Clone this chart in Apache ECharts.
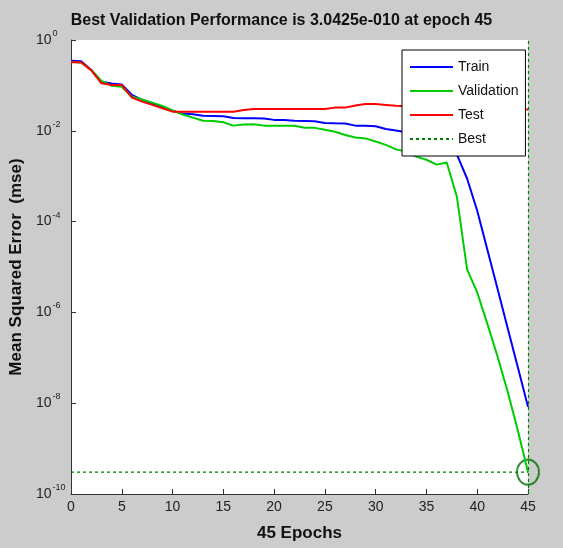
<!DOCTYPE html>
<html>
<head>
<meta charset="utf-8">
<script src="https://cdn.jsdelivr.net/npm/echarts@6/dist/echarts.min.js"></script>
<style>
  html, body { margin: 0; padding: 0; background: #cccccc; }
  #perf { width: 563px; height: 548px; }
</style>
</head>
<body>
<div id="perf"></div>
<script>
// training record (mse per epoch)
var epochs = [0,1,2,3,4,5,6,7,8,9,10,11,12,13,14,15,16,17,18,19,20,21,22,23,24,25,26,27,28,29,30,31,32,33,34,35,36,37,38,39,40,41,42,43,44,45];
var trainMse = [0.35,0.339,0.219,0.120,0.110,0.105,0.0617,0.0479,0.0403,0.0331,0.0277,0.0240,0.0231,0.0214,0.0212,0.0209,0.0191,0.0188,0.0188,0.0186,
  0.0174,0.0172,0.0166,0.0164,0.0162,0.0148,0.0146,0.0145,0.0130,0.0129,0.0126,0.0110,0.0102,0.0093,0.0079,0.0066,0.0052,0.0042,0.0030,
  8.9e-4,1.74e-4,2.4e-5,3.3e-6,4.5e-7,6.2e-8,8.3e-9];
var valMse = [0.331,0.316,0.219,0.126,0.0977,0.0933,0.0562,0.0490,0.0417,0.0352,0.0282,0.0229,0.0195,0.0166,0.0164,0.0154,0.0130,0.0138,0.0139,0.0130,
  0.0129,0.0129,0.0129,0.0117,0.0116,0.0105,0.0095,0.0081,0.0071,0.0068,0.0058,0.0049,0.0039,0.0035,0.0027,0.0023,0.0018,0.0020,3.5e-4,
  8.9e-6,2.75e-6,5.6e-7,1.07e-7,1.78e-8,2.5e-9,3.0425e-10];
var testMse = [0.324,0.324,0.214,0.111,0.102,0.102,0.0537,0.0439,0.0372,0.0313,0.0264,0.0264,0.0264,0.0264,0.0264,0.0264,0.0264,0.0287,0.0302,0.0302,
  0.0302,0.0302,0.0302,0.0302,0.0302,0.0302,0.0324,0.0324,0.0359,0.0389,0.0389,0.0372,0.0355,0.0347,0.0340,0.0335,0.0330,0.0325,0.0320,
  0.0316,0.0312,0.0310,0.0305,0.0300,0.0297,0.0295];
var bestEpoch = 45;
var bestPerf = 3.0425e-10;
var xTicks = [0, 5, 10, 15, 20, 25, 30, 35, 40, 45];

function pairs(ys) {
    return epochs.map(function (e, i) { return [e, ys[i]]; });
}

var myChart = echarts.init(document.getElementById('perf'));
option = {
    backgroundColor: '#cccccc',
    animation: false,
    title: {
        text: 'Best Validation Performance is 3.0425e-010 at epoch 45',
        left: 'center',
        top: 8,
        textStyle: {
            color: '#111',
            fontFamily: 'Liberation Sans, Arial',
            fontWeight: 'bold',
            fontSize: 16
        }
    },
    legend: {
        data: ['Train', 'Validation', 'Test', 'Best'],
        orient: 'vertical',
        left: 402,
        top: 50,
        padding: [10, 7, 10, 7],
        itemWidth: 43,
        itemHeight: 14,
        itemGap: 10,
        itemStyle: { opacity: 0 },
        backgroundColor: '#fff',
        borderColor: '#000',
        borderWidth: 1,
        textStyle: { color: '#111', fontSize: 14, fontFamily: 'Liberation Sans, Arial' }
    },
    grid: {
        left: 71, right: 35, top: 40, bottom: 54,
        outerBoundsMode: 'none',
        show: true, backgroundColor: '#fff', borderWidth: 0
    },
    xAxis: {
        type: 'value',
        min: 0, max: 45, interval: 5,
        name: '45 Epochs',
        nameLocation: 'middle',
        nameGap: 31,
        nameTextStyle: { color: '#111', fontSize: 17, fontWeight: 'bold', fontFamily: 'Liberation Sans, Arial' },
        axisLine: { lineStyle: { color: '#333' } },
        axisTick: { inside: true, length: 5, lineStyle: { color: '#333' } },
        axisLabel: {
            color: '#222', fontSize: 14, margin: 6,
            fontFamily: 'Liberation Sans, Arial',
            customValues: xTicks
        },
        splitLine: { show: false }
    },
    yAxis: {
        type: 'log',
        logBase: 10,
        min: 1e-10, max: 1, interval: 2,
        name: 'Mean Squared Error  (mse)',
        nameLocation: 'middle',
        nameGap: 43,
        nameRotate: 90,
        nameTextStyle: { color: '#111', fontSize: 17, fontWeight: 'bold', fontFamily: 'Liberation Sans, Arial' },
        axisLine: { show: true, lineStyle: { color: '#333' } },
        axisTick: { inside: true, length: 5, lineStyle: { color: '#333' } },
        axisLabel: {
            align: 'left',
            margin: 35,
            formatter: function (v) {
                var e = Math.round(Math.log(v) / Math.LN10);
                return '{b|10}{s|' + e + '}';
            },
            rich: {
                b: { fontSize: 14, color: '#222', fontFamily: 'Liberation Sans, Arial' },
                s: { fontSize: 9, color: '#222', padding: [0, 0, 13, 1], fontFamily: 'Liberation Sans, Arial' }
            }
        },
        splitLine: { show: false }
    },
    series: [{
        name: 'Train',
        type: 'line',
        data: pairs(trainMse),
        symbol: 'none',
        color: '#0000ff',
        lineStyle: { width: 2, color: '#0000ff' }
    }, {
        name: 'Validation',
        type: 'line',
        data: pairs(valMse),
        symbol: 'none',
        color: '#00cc00',
        lineStyle: { width: 2, color: '#00cc00' }
    }, {
        name: 'Test',
        type: 'line',
        data: pairs(testMse),
        symbol: 'none',
        color: '#ff0000',
        lineStyle: { width: 2, color: '#ff0000' }
    }, {
        name: 'Best',
        type: 'line',
        data: [[0, bestPerf], [bestEpoch, bestPerf]],
        symbol: 'none',
        color: '#008000',
        lineStyle: { width: 1.2, color: '#008000', type: [3, 3] },
        markLine: {
            silent: true,
            symbol: 'none',
            label: { show: false },
            lineStyle: { width: 1.2, color: '#008000', type: [3, 3] },
            data: [{ xAxis: bestEpoch }]
        }
    }, {
        name: 'bestPoint',
        type: 'scatter',
        data: [[bestEpoch, bestPerf]],
        symbol: 'circle',
        symbolSize: [22, 25],
        itemStyle: { color: 'rgba(0,0,0,0)', borderColor: '#007000', borderWidth: 2 }
    }]
};
myChart.setOption(option);
</script>
</body>
</html>
